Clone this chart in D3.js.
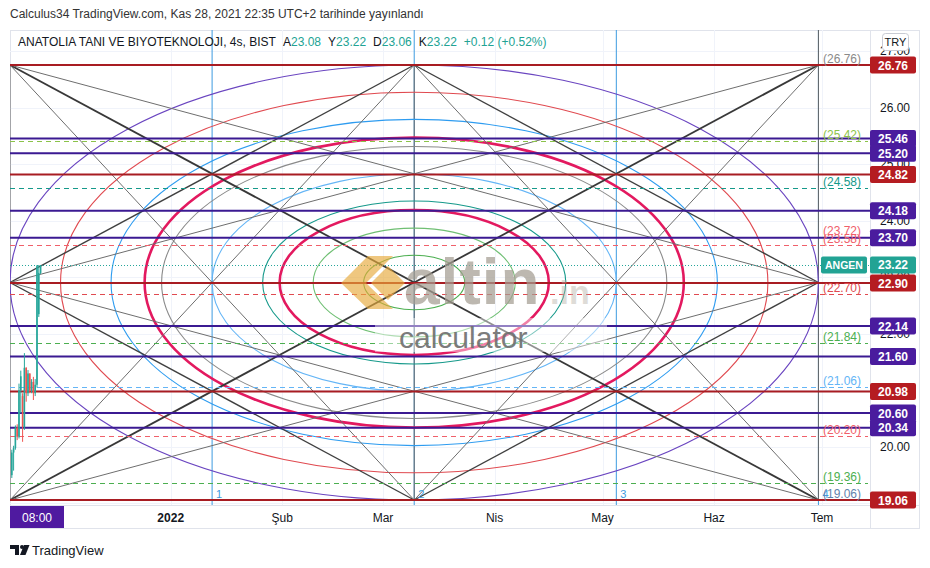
<!DOCTYPE html>
<html><head><meta charset="utf-8">
<script src="https://cdn.jsdelivr.net/npm/d3@7"></script>
<style>
body{margin:0;background:#fff;}
svg{display:block;font-family:"Liberation Sans",Arial,sans-serif;}
</style>
</head><body>
<svg id="c" width="930" height="568"></svg>
<script>
// ---------------- DATA ----------------
const headerText = "Calculus34 TradingView.com, Kas 28, 2021 22:35 UTC+2 tarihinde yayınlandı";
const symbolName = "ANATOLIA TANI VE BIYOTEKNOLOJI, 4s, BIST";
const ohlcLetters = ["A", "Y", "D", "K"];
const ohlcValues = ["23.08", "23.22", "23.06", "23.22"];
const changeText = "+0.12 (+0.52%)";
const currencyText = "TRY";
const tickerName = "ANGEN";
const lastPrice = 23.22;
const lastBarLabel = "08:00";

const candleTimes = ["2021-11-17T20:00","2021-11-18T08:00","2021-11-18T20:00","2021-11-19T08:00",
  "2021-11-19T20:00","2021-11-20T08:00","2021-11-20T20:00","2021-11-21T08:00","2021-11-21T20:00",
  "2021-11-22T08:00","2021-11-22T20:00","2021-11-23T08:00","2021-11-23T20:00","2021-11-24T08:00",
  "2021-11-24T20:00","2021-11-25T08:00","2021-11-25T20:00"];
const candleOpen  = [19.50,19.90,19.98,20.34,20.18,21.00,20.90,20.35,21.40,20.95,21.30,21.00,21.15,20.95,21.10,22.35,23.08];
const candleHigh  = [19.95,20.02,20.38,20.40,21.12,21.35,20.95,21.66,21.41,21.36,21.30,21.20,21.24,21.20,23.22,23.22,23.22];
const candleLow   = [19.45,19.58,19.95,20.12,20.15,20.60,20.09,20.30,20.80,20.90,20.95,20.95,20.83,20.90,21.05,22.30,23.06];
const candleClose = [19.90,19.98,20.34,20.18,21.00,21.25,20.35,21.40,20.95,21.30,21.00,21.15,20.95,21.10,23.20,23.08,23.22];

const priceTicks = [19, 20, 21, 22, 23, 24, 25, 26, 27];
const monthDates = ["2022-01-01T00:00","2022-02-01T00:00","2022-03-01T00:00","2022-04-01T00:00","2022-05-01T00:00","2022-06-01T00:00","2022-07-01T00:00"];
const monthLabels = ["2022", "Şub", "Mar", "Nis", "May", "Haz", "Tem"];

const solidLevels = [26.76, 25.46, 25.20, 24.82, 24.18, 23.70, 22.90, 22.14, 21.60, 20.98, 20.60, 20.34, 19.06];
const solidKinds  = ["r", "p", "p", "r", "p", "p", "r", "p", "p", "r", "p", "p", "r"];

const fibLevels = [26.76, 25.42, 24.58, 23.72, 23.58, 22.70, 21.84, 21.06, 20.20, 19.36, 19.06];
const fibKinds  = ["gray", "lime", "teal", "salmon", "salmon", "red", "green", "sky", "salmon", "green", "steel"];

const gannStart = "2021-11-17T08:00";
const gannEnd = "2022-06-30T00:00";
const gannLow = 19.06;
const gannHigh = 26.76;
const gannCircleLevels = [1, 0.875, 0.75, 0.667, 0.625, 0.5, 0.375, 0.333, 0.25, 0.125];
const gannCircleKinds  = ["purple", "red", "blue", "pink", "gray", "sky", "teal", "pink", "lgreen", "green"];
const timeLevels = [0.25, 0.5, 0.75, 1];
const timeLevelLabels = ["1", "2", "3", "4"];
// gann fan lines: [from anchor, to anchor, kind]
const gannLines = [
  ["TL","BR","main"],["BL","TR","main"],
  ["LM","TM","mid"],["TM","RM","mid"],["RM","BM","mid"],["BM","LM","mid"],
  ["TL","RM","thin"],["TL","BM","thin"],["TR","LM","thin"],["TR","BM","thin"],
  ["BL","TM","thin"],["BL","RM","thin"],["BR","TM","thin"],["BR","LM","thin"]
];

// ---------------- STYLES ----------------
const colors = {
  r: "#a81c22", p: "#3b1a92", rBox: "#b51c21", pBox: "#4a1c9e",
  gray: "#8a8a8a", lime: "#8bc34a", teal: "#15998a", salmon: "#f0606a", red: "#e04a50",
  green: "#4caf50", sky: "#64b5f6", steel: "#5f84ad",
  purple: "#6a45c0", blue: "#2e9cf0", pink: "#e3195f", lgreen: "#6fbf73"
};
const circleWidth = {pink: 2.6};
const lineStyle = {main: ["#383838", 1.8], mid: ["#404040", 1.4], thin: ["#6e6e6e", 1]};
const upColor = "#26a69a", downColor = "#ef5350";

// ---------------- SETUP ----------------
const svg = d3.select("#c");
const parse = d3.timeParse("%Y-%m-%dT%H:%M");
const plot = {l: 10, r: 870, t: 30, b: 505};

const x = d3.scaleTime()
  .domain([parse("2021-11-17T08:00"), parse("2022-07-14T08:00")])
  .range([plot.l, plot.r]);
const y = d3.scaleLinear().domain([gannLow, gannHigh]).range([500, 65]);

// background / frame
svg.append("rect").attr("width", 930).attr("height", 568).attr("fill", "#fff");
svg.append("rect").attr("x", 10.5).attr("y", 30.5).attr("width", 909).attr("height", 498)
  .attr("fill", "none").attr("stroke", "#e0e3eb");
svg.append("line").attr("x1", plot.r + 0.5).attr("x2", plot.r + 0.5).attr("y1", 30).attr("y2", 528).attr("stroke", "#e0e3eb");
svg.append("line").attr("x1", 10).attr("x2", 920).attr("y1", plot.b + 0.5).attr("y2", plot.b + 0.5).attr("stroke", "#e0e3eb");

const defs = svg.append("defs");
defs.append("clipPath").attr("id", "pc").append("rect")
  .attr("x", plot.l).attr("y", plot.t).attr("width", plot.r - plot.l).attr("height", plot.b - plot.t);

const g = svg.append("g").attr("clip-path", "url(#pc)");

// grid
const months = monthDates.map(parse);
g.selectAll(".vg").data(months).join("line")
  .attr("x1", d => Math.round(x(d)) + 0.5).attr("x2", d => Math.round(x(d)) + 0.5)
  .attr("y1", plot.t).attr("y2", plot.b).attr("stroke", "#f0f3fa");
g.selectAll(".hg").data(priceTicks).join("line")
  .attr("x1", plot.l).attr("x2", plot.r)
  .attr("y1", d => Math.round(y(d)) + 0.5).attr("y2", d => Math.round(y(d)) + 0.5).attr("stroke", "#f0f3fa");

// gann geometry
const t0 = parse(gannStart), t1 = parse(gannEnd);
const tMid = new Date((+t0 + +t1) / 2);
const pMid = (gannLow + gannHigh) / 2;
const anchors = {
  TL: [x(t0), y(gannHigh)], TM: [x(tMid), y(gannHigh)], TR: [x(t1), y(gannHigh)],
  LM: [x(t0), y(pMid)], RM: [x(t1), y(pMid)],
  BL: [x(t0), y(gannLow)], BM: [x(tMid), y(gannLow)], BR: [x(t1), y(gannLow)]
};

// time level vertical lines (blue)
const tAt = f => new Date(+t0 + (t1 - t0) * f);
g.selectAll(".tl").data(timeLevels).join("line")
  .attr("x1", d => x(tAt(d))).attr("x2", d => x(tAt(d)))
  .attr("y1", plot.t).attr("y2", plot.b).attr("stroke", "#3d9be0").attr("stroke-width", 1);

// box verticals
g.selectAll(".bv").data([t0, tMid, t1]).join("line")
  .attr("x1", d => x(d)).attr("x2", d => x(d))
  .attr("y1", y(gannHigh)).attr("y2", y(gannLow)).attr("stroke", "#666").attr("stroke-width", 1);
g.append("line").attr("x1", x(t1)).attr("x2", x(t1)).attr("y1", plot.t).attr("y2", y(gannHigh))
  .attr("stroke", "#666");

// ellipses
const cx = x(tMid), cy = y(pMid);
const halfW = (x(t1) - x(t0)) / 2, halfH = (y(gannLow) - y(gannHigh)) / 2;
g.selectAll(".el").data(gannCircleLevels).join("ellipse")
  .attr("cx", cx).attr("cy", cy)
  .attr("rx", d => halfW * d).attr("ry", d => halfH * d)
  .attr("fill", "none")
  .attr("stroke", (d, i) => colors[gannCircleKinds[i]])
  .attr("stroke-width", (d, i) => circleWidth[gannCircleKinds[i]] || 1.1);

// fan lines
g.selectAll(".fl").data(gannLines).join("line")
  .attr("x1", d => anchors[d[0]][0]).attr("y1", d => anchors[d[0]][1])
  .attr("x2", d => anchors[d[1]][0]).attr("y2", d => anchors[d[1]][1])
  .attr("stroke", d => lineStyle[d[2]][0]).attr("stroke-width", d => lineStyle[d[2]][1]);

// time level labels
g.selectAll(".tll").data(timeLevels).join("text")
  .attr("x", d => x(tAt(d)) + 4).attr("y", 498)
  .attr("fill", "#3d9be0").attr("font-size", 11).text((d, i) => timeLevelLabels[i]);

// fib dashed levels
g.selectAll(".fib").data(fibLevels).join("line")
  .attr("x1", plot.l).attr("x2", plot.r - 2)
  .attr("y1", d => Math.round(y(d)) + 0.5).attr("y2", d => Math.round(y(d)) + 0.5)
  .attr("stroke", (d, i) => colors[fibKinds[i]]).attr("stroke-width", 1)
  .attr("stroke-dasharray", "5,4");

// last price dotted line
g.append("line").attr("x1", plot.l).attr("x2", plot.r)
  .attr("y1", Math.round(y(lastPrice)) + 0.5).attr("y2", Math.round(y(lastPrice)) + 0.5)
  .attr("stroke", "#26a69a").attr("stroke-width", 1).attr("stroke-dasharray", "1,2");

// solid levels
g.selectAll(".sl").data(solidLevels).join("line")
  .attr("x1", plot.l).attr("x2", plot.r)
  .attr("y1", d => y(d)).attr("y2", d => y(d))
  .attr("stroke", (d, i) => colors[solidKinds[i]]).attr("stroke-width", 2);

// candles
const candles = candleTimes.map((t, i) => ({t: parse(t), o: candleOpen[i], h: candleHigh[i], l: candleLow[i], c: candleClose[i]}));
g.selectAll(".wick").data(candles).join("line")
  .attr("x1", d => x(d.t)).attr("x2", d => x(d.t))
  .attr("y1", d => y(d.h)).attr("y2", d => y(d.l))
  .attr("stroke", d => d.c >= d.o ? upColor : downColor).attr("stroke-width", 1);
g.selectAll(".body").data(candles).join("rect")
  .attr("x", d => x(d.t) - 0.8).attr("width", 1.6)
  .attr("y", d => y(Math.max(d.o, d.c))).attr("height", d => Math.max(1, Math.abs(y(d.o) - y(d.c))))
  .attr("fill", d => d.c >= d.o ? upColor : downColor);

// watermark overlay
const wm = svg.append("g");
wm.append("rect").attr("x", 375).attr("y", 318).attr("width", 232).attr("height", 34).attr("fill", "#fff").attr("opacity", 0.45);
wm.append("path").attr("d", "M341,283 L368,256 L393,256 L366,283 L393,309 L368,309 Z M371,283 L388,266 L405,283 L388,300 Z")
  .attr("fill", "#e6a93a").attr("opacity", 0.65);
wm.append("text").attr("x", 404).attr("y", 304).attr("font-size", 64).attr("font-weight", "bold")
  .attr("fill", "#a59e92").attr("opacity", 0.72).attr("letter-spacing", 1).text("altin");
wm.append("text").attr("x", 550).attr("y", 304).attr("font-size", 34).attr("font-weight", "bold")
  .attr("fill", "#b8b2a8").attr("opacity", 0.45).text(".in");
wm.append("text").attr("x", 399).attr("y", 348).attr("font-size", 30)
  .attr("fill", "#6e6e6e").attr("opacity", 0.9).text("calculator");

// fib labels at right
svg.selectAll(".fibl").data(fibLevels).join("text")
  .attr("x", 823).attr("y", d => y(d) - 2)
  .attr("font-size", 12).attr("fill", (d, i) => colors[fibKinds[i]])
  .text(d => "(" + d.toFixed(2) + ")");

// price axis ticks
svg.selectAll(".pt").data(priceTicks).join("text")
  .attr("x", 880).attr("y", d => y(d) + 4)
  .attr("font-size", 12).attr("fill", "#131722").text(d => d.toFixed(2));

// price axis level boxes
const boxes = svg.selectAll(".bx").data(solidLevels).join("g")
  .attr("transform", d => `translate(${plot.r},${y(d)})`);
boxes.append("rect").attr("x", 0).attr("y", -8.5).attr("width", 46).attr("height", 17).attr("rx", 2)
  .attr("fill", (d, i) => solidKinds[i] === "r" ? colors.rBox : colors.pBox);
boxes.append("text").attr("x", 23).attr("y", 4.5).attr("text-anchor", "middle")
  .attr("font-size", 12).attr("font-weight", "bold").attr("fill", "#fff").text(d => d.toFixed(2));

// last price label
const lp = svg.append("g").attr("transform", `translate(0,${y(lastPrice)})`);
lp.append("rect").attr("x", 821).attr("y", -8.5).attr("width", 46).attr("height", 17).attr("rx", 2).attr("fill", "#22a394");
lp.append("text").attr("x", 844).attr("y", 4).attr("text-anchor", "middle").attr("font-size", 10.5)
  .attr("font-weight", "bold").attr("fill", "#fff").text(tickerName);
lp.append("rect").attr("x", plot.r).attr("y", -8.5).attr("width", 46).attr("height", 17).attr("rx", 2).attr("fill", "#22a394");
lp.append("text").attr("x", plot.r + 23).attr("y", 4.5).attr("text-anchor", "middle").attr("font-size", 12)
  .attr("font-weight", "bold").attr("fill", "#fff").text(lastPrice.toFixed(2));

// currency box
svg.append("rect").attr("x", 882.5).attr("y", 33.5).attr("width", 26).attr("height", 17).attr("rx", 3)
  .attr("fill", "#fff").attr("stroke", "#c8cbd3");
svg.append("text").attr("x", 895.5).attr("y", 46).attr("text-anchor", "middle").attr("font-size", 11)
  .attr("fill", "#131722").text(currencyText);

// time axis labels
svg.selectAll(".ml").data(months).join("text")
  .attr("x", d => x(d)).attr("y", 522).attr("text-anchor", "middle")
  .attr("font-size", 12).attr("fill", "#131722")
  .attr("font-weight", (d, i) => i === 0 ? "bold" : "normal")
  .text((d, i) => monthLabels[i]);
svg.append("rect").attr("x", 10).attr("y", 506).attr("width", 54).attr("height", 22).attr("fill", "#4f1aa0");
svg.append("text").attr("x", 37).attr("y", 522).attr("text-anchor", "middle").attr("font-size", 12)
  .attr("fill", "#fff").text(lastBarLabel);

// header
svg.append("text").attr("x", 10).attr("y", 18).attr("font-size", 12).attr("fill", "#333").text(headerText);

// legend
const leg = svg.append("text").attr("x", 18).attr("y", 46).attr("font-size", 12).attr("fill", "#131722");
leg.append("tspan").text(symbolName);
ohlcLetters.forEach((l, i) => {
  leg.append("tspan").attr("dx", i === 0 ? 8 : 7).attr("fill", "#131722").text(l);
  leg.append("tspan").attr("fill", "#22a394").text(ohlcValues[i]);
});
leg.append("tspan").attr("dx", 7).attr("fill", "#22a394").text(changeText);

// footer logo
const logo = svg.append("g").attr("fill", "#131722");
logo.append("path").attr("d", "M10,545 H19 V555 H15 V549 H10 Z");
logo.append("circle").attr("cx", 22).attr("cy", 547).attr("r", 2);
logo.append("path").attr("d", "M24,545 H29.5 L25.5,555 H20 Z");
svg.append("text").attr("x", 32).attr("y", 555).attr("font-size", 13).attr("fill", "#131722").text("TradingView");
</script>
</body></html>
